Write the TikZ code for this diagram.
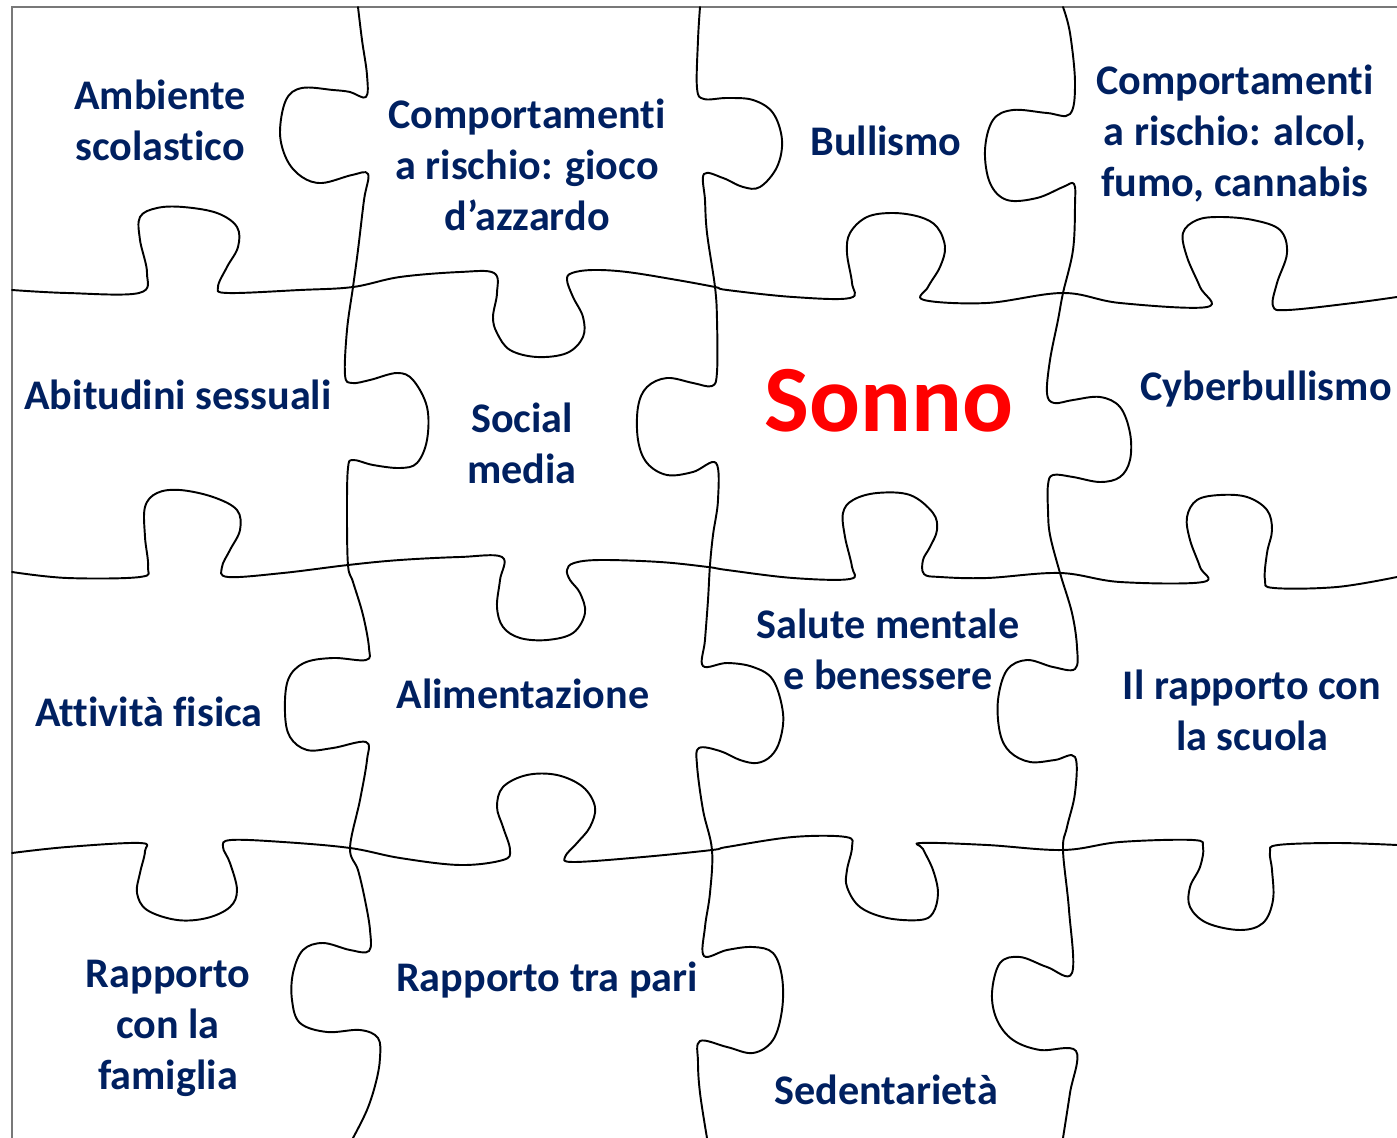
\documentclass[tikz,border=0pt]{standalone}
\usepackage{fontspec}
\setmainfont{Carlito}[Ligatures={NoCommon,NoContextual}]
\usepackage{xcolor}
\definecolor{navy}{RGB}{0,32,96}
\definecolor{frm}{RGB}{120,120,120}
\definecolor{rd}{RGB}{255,0,0}

\begin{document}
\begin{tikzpicture}[x=0.02cm, y=-0.02cm,
    lbl/.style={text=navy, font=\bfseries\fontsize{24}{29}\selectfont, align=center, inner sep=0pt},
    cut/.style={black, line width=1.1pt, line join=round, line cap=round},
    frame/.style={frm, line width=1.6pt}]
        \useasboundingbox (0,0) rectangle (1397,1138);
        \draw[frame] (12,1138) -- (12,7) -- (1397,7);

        % vertical cuts
        \draw[cut] plot[smooth, tension=0.6] coordinates {(358,7) (362,40) (367,75) (366,97) (350,92) (333,90) (302,88) (286,100) (280,133) (287,160) (302,177) (322,183) (352,175) (368,174) (364,200) (358,250) (353,287) (347,330) (345,375) (352,383) (370,380) (397,373) (413,380) (427,407) (427,440) (417,463) (400,468) (373,465) (353,460) (348,468) (347,510) (348,565) (353,582) (363,615) (369,648) (366,660) (333,658) (304,663) (288,680) (285,713) (290,737) (307,750) (333,748) (366,742) (367,760) (360,800) (350,848) (358,870) (365,900) (370,930) (369,951) (350,950) (323,943) (303,950) (293,973) (292,1000) (300,1023) (327,1032) (360,1030) (378,1038) (380,1058) (376,1082) (367,1110) (353,1138)};
        \draw[cut] plot[smooth, tension=0.6] coordinates {(700,7) (698,40) (697,88) (704,99) (727,98) (753,100) (773,113) (782,140) (777,167) (760,187) (743,187) (723,178) (704,174) (705,200) (707,233) (715,287) (717,320) (717,372) (712,386) (693,383) (667,378) (647,387) (638,407) (638,440) (647,463) (667,475) (693,472) (716,463) (718,500) (713,535) (710,565) (708,600) (705,640) (703,666) (727,663) (753,667) (773,680) (783,713) (780,740) (771,756) (757,763) (740,760) (720,751) (699,748) (697,765) (703,810) (712,850) (710,893) (705,927) (704,956) (727,950) (753,947) (773,953) (782,977) (782,1010) (773,1040) (753,1053) (727,1047) (700,1041) (698,1062) (700,1093) (707,1138)};
        \draw[cut] plot[smooth, tension=0.6] coordinates {(1063,7) (1070,33) (1075,83) (1070,114) (1047,113) (1013,110) (993,120) (985,150) (990,183) (1007,200) (1037,198) (1063,187) (1074,184) (1075,205) (1073,250) (1063,293) (1058,320) (1050,360) (1047,393) (1054,403) (1073,400) (1100,397) (1120,407) (1130,433) (1130,460) (1120,477) (1100,482) (1073,477) (1053,475) (1048,485) (1048,510) (1050,535) (1060,573) (1072,613) (1077,647) (1075,669) (1053,667) (1027,660) (1007,670) (998,700) (1000,733) (1010,752) (1030,762) (1055,760) (1075,757) (1075,793) (1067,827) (1063,850) (1069,910) (1072,973) (1047,967) (1020,957) (1000,963) (992,993) (997,1020) (1013,1040) (1040,1050) (1076,1051) (1070,1093) (1063,1138)};

        % horizontal cuts
        \draw[cut] plot[smooth, tension=0.6] coordinates {(12,290) (67,293) (139,293) (147,273) (140,240) (140,217) (157,208) (183,207) (217,213) (237,227) (238,247) (227,267) (218,287) (228,293) (300,290) (353,287) (400,277) (460,272) (494,273) (497,293) (493,317) (497,333) (510,350) (537,357) (567,353) (583,337) (583,317) (573,297) (567,280) (572,273) (593,270) (627,272) (677,280) (715,287) (727,290) (793,297) (850,298) (852,283) (847,253) (850,233) (867,217) (893,213) (920,217) (937,227) (945,247) (940,267) (928,287) (924,300) (987,303) (1063,293) (1120,303) (1207,307) (1200,287) (1187,257) (1183,233) (1197,220) (1220,217) (1253,220) (1280,230) (1287,253) (1277,283) (1273,306) (1288,310) (1353,303) (1397,297)};
        \draw[cut] plot[smooth, tension=0.6] coordinates {(12,572) (67,578) (140,577) (148,567) (145,537) (145,507) (157,493) (180,490) (213,497) (237,510) (240,530) (230,550) (222,567) (228,577) (283,573) (348,565) (400,560) (460,557) (502,557) (500,580) (497,607) (503,627) (520,638) (547,640) (573,633) (585,613) (580,593) (570,580) (567,570) (574,563) (600,560) (660,562) (708,567) (727,570) (793,578) (850,579) (852,567) (845,537) (843,513) (853,500) (877,493) (910,495) (933,513) (937,530) (930,547) (923,560) (924,574) (940,577) (987,578) (1060,573) (1120,582) (1203,582) (1200,567) (1190,540) (1187,517) (1197,500) (1220,495) (1247,497) (1267,510) (1272,530) (1267,553) (1265,580) (1274,588) (1337,587) (1397,577)};
        \draw[cut] plot[smooth, tension=0.6] coordinates {(12,853) (67,847) (140,843) (145,851) (140,873) (137,893) (147,910) (177,920) (207,918) (230,907) (237,890) (230,863) (223,847) (231,840) (283,842) (350,848) (400,858) (460,865) (503,860) (510,850) (503,827) (497,807) (503,787) (527,775) (557,775) (583,787) (595,807) (590,827) (577,843) (565,857) (574,862) (643,857) (712,850) (727,847) (793,837) (846,837) (852,847) (847,870) (847,887) (860,907) (887,918) (920,920) (933,913) (938,893) (933,870) (923,849) (921,843) (987,845) (1063,850) (1120,842) (1193,840) (1203,847) (1200,867) (1190,887) (1190,907) (1207,923) (1240,930) (1263,923) (1273,900) (1272,870) (1270,852) (1278,845) (1337,843) (1397,845)};

        % labels
        \node[lbl] (amb) at (160,120) {Ambiente\\scolastico};
        \node[lbl] (azz) at (527,165) {Comportamenti\\a rischio: gioco\\d’azzardo};
        \node[lbl] (bul) at (886,141) {Bullismo};
        \node[lbl] (alc) at (1235,134) {Comportamenti\\a rischio: alcol,\\fumo, cannabis};
        \node[lbl] (abi) at (178,395) {Abitudini sessuali};
        \node[lbl] (soc) at (522,443) {Social\\media};
        \node[text=rd, font=\bfseries\fontsize{54}{60}\selectfont, inner sep=0pt] (son) at (889,401) {Sonno};
        \node[lbl] (cyb) at (1266,389) {Cyberbullismo};
        \node[lbl] (att) at (149,712) {Attività fisica};
        \node[lbl] (ali) at (523,694) {Alimentazione};
        \node[lbl] (sal) at (888,649) {Salute mentale\\e benessere};
        \node[lbl] (scu) at (1252,710) {Il rapporto con\\la scuola};
        \node[lbl] (fam) at (168,1028) {Rapporto\\con la\\famiglia};
        \node[lbl] (par) at (547,980) {Rapporto tra pari};
        \node[lbl] (sed) at (886,1090) {Sedentarietà};
\end{tikzpicture}
\end{document}
